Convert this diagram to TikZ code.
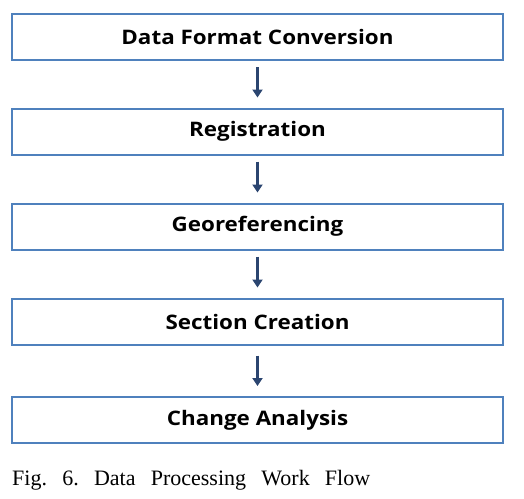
\documentclass[tikz,border=0pt]{standalone}
\usepackage{fontspec}
\setmainfont{Liberation Serif}
\newfontfamily\boxfont[FakeStretch=1.12]{Open Sans}
\usetikzlibrary{arrows.meta}
\definecolor{boxblue}{HTML}{4F81BD}
\definecolor{arrowblue}{HTML}{2B4570}
\begin{document}
\frenchspacing
\begin{tikzpicture}[x=1pt,y=-1pt,
  stepbox/.style={draw=boxblue,line width=2pt,fill=white,minimum width=491pt,minimum height=46pt,inner sep=0pt,font=\boxfont\bfseries\fontsize{20}{22}\selectfont},
  flow/.style={draw=arrowblue,line width=2.8pt,-{Triangle[length=8pt,width=10pt]},shorten >=0pt}]
\useasboundingbox (0,0) rectangle (524,498);
\node[stepbox] (b1) at (257.5,37) {Data Format Conversion};
\node[stepbox] (b2) at (257.5,131.5) {Registration};
\node[stepbox] (b3) at (257.5,226.5) {Georeferencing};
\node[stepbox] (b4) at (257.5,321.5) {Section Creation};
\node[stepbox] (b5) at (257.5,420) {Change Analysis};
\draw[flow] ([yshift=-6pt]b1.south) -- ([yshift=10pt]b2.north);
\draw[flow] ([yshift=-6pt]b2.south) -- ([yshift=10pt]b3.north);
\draw[flow] ([yshift=-6pt]b3.south) -- ([yshift=10pt]b4.north);
\draw[flow] ([yshift=-10pt]b4.south) -- ([yshift=10pt]b5.north);
\node[anchor=base west,inner sep=0pt,font=\fontsize{22}{24}\selectfont] (cap) at (12,485) {\makebox[358pt][s]{Fig. 6. Data Processing Work Flow}};
\end{tikzpicture}
\end{document}
